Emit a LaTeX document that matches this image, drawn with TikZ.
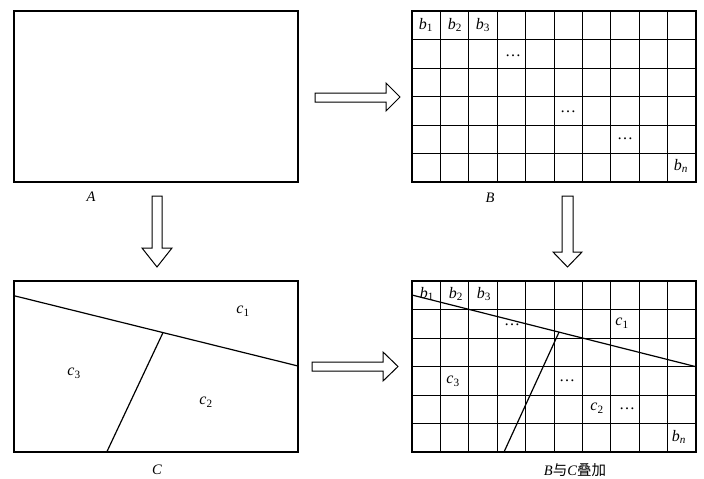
\documentclass[tikz,border=0pt]{standalone}
\usepackage{fontspec}
\setmainfont{Liberation Serif}
\newfontfamily\cjk{Noto Sans CJK SC}
\newcommand\subl[2]{\textit{#1}\textsubscript{#2}}
\begin{document}
\begin{tikzpicture}[x=1pt,y=-1pt,
  panel/.style={draw, line width=1.2pt, minimum width=284pt, minimum height=171pt, anchor=north west, inner sep=0pt, outer sep=0pt},
  gridline/.style={line width=1pt},
  cutline/.style={line width=1.2pt},
  lbl/.style={inner sep=0pt, font=\fontsize{16}{18}\selectfont},
  captext/.style={inner sep=0pt, font=\fontsize{14.5}{17}\selectfont},
  bigarrow/.style={draw, line width=1pt, fill=white, line join=miter}]
\useasboundingbox (0,0) rectangle (704,479);

% panels
\node[panel] (A) at (14,11) {};
\node[panel] (B) at (412,11) {};
\node[panel] (C) at (14,281) {};
\node[panel] (D) at (412,281) {};

% grids
\foreach \p in {B,D}{
  \foreach \i in {1,...,9}
    \draw[gridline] (\p.north west) ++(\i*28.4,0) -- ++(0,171);
  \foreach \j in {1,...,5}
    \draw[gridline] (\p.north west) ++(0,\j*28.5) -- ++(284,0);
}

% cut lines in C
\coordinate (c1a) at (14,295.7);
\coordinate (c1b) at (298,366);
\coordinate (c2a) at (107,451.5);
\coordinate (c2b) at (163,332.6);
\draw[cutline] (c1a) -- (c1b);
\draw[cutline] (c2a) -- (c2b);

% cut lines in D
\coordinate (d1a) at (412,295);
\coordinate (d1b) at (696,366.7);
\coordinate (d2a) at (504,452);
\coordinate (d2b) at (559,332.2);
\draw[cutline] (d1a) -- (d1b);
\draw[cutline] (d2a) -- (d2b);

% arrows
\draw[bigarrow] (315,93)--(386,93)--(386,83)--(400,97)--(386,111)--(386,102)--(315,102)--cycle;
\draw[bigarrow] (312,362)--(383,362)--(383,352)--(398,366.5)--(383,381)--(383,371)--(312,371)--cycle;
\draw[bigarrow] (152,196)--(162,196)--(162,248)--(172,248)--(157,267)--(142,248)--(152,248)--cycle;
\draw[bigarrow] (562,196)--(573,196)--(573,252)--(582,252)--(567.5,267)--(553,252)--(562,252)--cycle;

% labels in B
\node[lbl] (b1) at (426,25) {\subl{b}{1}};
\node[lbl] (b2) at (455,25) {\subl{b}{2}};
\node[lbl] (b3) at (483,25) {\subl{b}{3}};
\node[lbl] (bd1) at (513,56) {\ldots};
\node[lbl] (bd2) at (568,112) {\ldots};
\node[lbl] (bd3) at (625,139) {\ldots};
\node[lbl] (bn) at (681,166) {\subl{b}{\textit{n}}};

% labels in C
\node[lbl] (cc1) at (243,311) {\subl{c}{1}};
\node[lbl] (cc3) at (74,373) {\subl{c}{3}};
\node[lbl] (cc2) at (206,402) {\subl{c}{2}};

% labels in D
\node[lbl] (db1) at (427,294) {\subl{b}{1}};
\node[lbl] (db2) at (456,294) {\subl{b}{2}};
\node[lbl] (db3) at (484,294) {\subl{b}{3}};
\node[lbl] (dd1) at (512,325) {\ldots};
\node[lbl] (dc1) at (622,323) {\subl{c}{1}};
\node[lbl] (dc3) at (453,381) {\subl{c}{3}};
\node[lbl] (dd2) at (567,381) {\ldots};
\node[lbl] (dc2) at (597,408) {\subl{c}{2}};
\node[lbl] (dd3) at (627,409) {\ldots};
\node[lbl] (dbn) at (679,437) {\subl{b}{\textit{n}}};

% captions
\node[captext] (capA) at (91,197) {\textit{A}};
\node[captext] (capB) at (490,198) {\textit{B}};
\node[captext] (capC) at (157,470) {\textit{C}};
\node[captext] (capD) at (575,470) {\textit{B}{\cjk 与}\textit{C}{\cjk 叠加}};
\end{tikzpicture}
\end{document}
